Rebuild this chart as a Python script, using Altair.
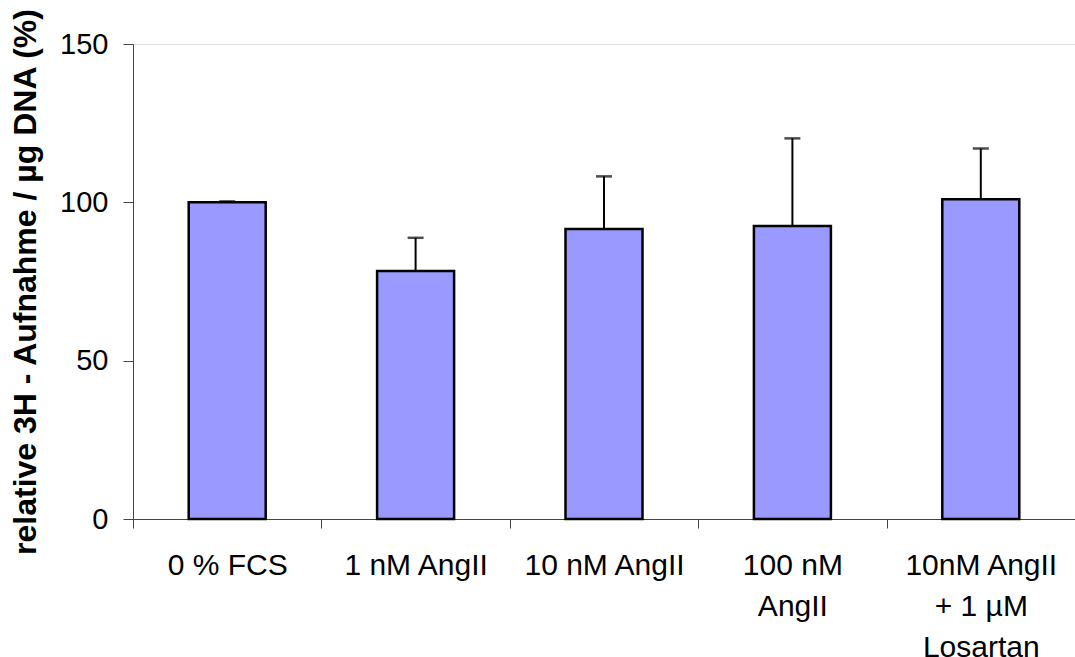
import altair as alt
import pandas as pd

categories = ["0 % FCS", "1 nM AngII", "10 nM AngII", "100 nM\nAngII", "10nM AngII\n+ 1 µM\nLosartan"]
means = [100.0, 78.3, 91.6, 92.5, 101.0]
errors = [0.3, 10.5, 16.6, 27.7, 16.0]
y_ticks = [0, 50, 100, 150]

df = pd.DataFrame({"cat": categories, "mean": means, "err": errors})
df["upper"] = df["mean"] + df["err"]

FONT = "Liberation Sans"
AX = "#444444"

x_enc = alt.X(
    "cat:N",
    sort=categories,
    scale=alt.Scale(paddingInner=0, paddingOuter=0),
    axis=alt.Axis(
        title=None,
        labelAngle=0,
        labelFont=FONT,
        labelFontSize=30,
        labelColor="black",
        labelLineHeight=41,
        labelPadding=22,
        labelLimit=400,
        labelOverlap=False,
        labelExpr="split(datum.label, '\\n')",
        tickBand="extent",
        tickSize=9,
        tickColor=AX,
        domainColor=AX,
    ),
)

y_scale = alt.Scale(domain=[0, 150], nice=False)

bars = alt.Chart(df).mark_bar(
    size=77, color="#9999FF", stroke="black", strokeWidth=2.5
).encode(
    x=x_enc,
    y=alt.Y(
        "mean:Q",
        scale=y_scale,
        axis=alt.Axis(
            values=y_ticks,
            grid=False,
            title="relative 3H - Aufnahme / µg DNA (%)",
            titleFont=FONT,
            titleFontSize=32,
            titleFontWeight="bold",
            titleColor="black",
            titlePadding=17,
            labelFont=FONT,
            labelFontSize=29,
            labelColor="black",
            labelPadding=15,
            tickSize=10,
            tickColor=AX,
            domainColor=AX,
        ),
    ),
)

rules = alt.Chart(df).mark_rule(color="black", strokeWidth=2).encode(
    x=alt.X("cat:N", sort=categories),
    y="mean:Q",
    y2="upper:Q",
)

caps = alt.Chart(df).mark_tick(color="black", size=16, thickness=2.5).encode(
    x=alt.X("cat:N", sort=categories),
    y="upper:Q",
)

chart = (
    alt.layer(bars, rules, caps)
    .properties(
        width=942,
        height=475,
        autosize=alt.AutoSizeParams(type="none"),
        padding={"left": 133, "top": 44, "right": 0, "bottom": 138},
    )
    .configure_view(stroke=None)
    .configure(background="white")
)

chart.save("out.html", embed_options={"renderer": "svg", "actions": False})
